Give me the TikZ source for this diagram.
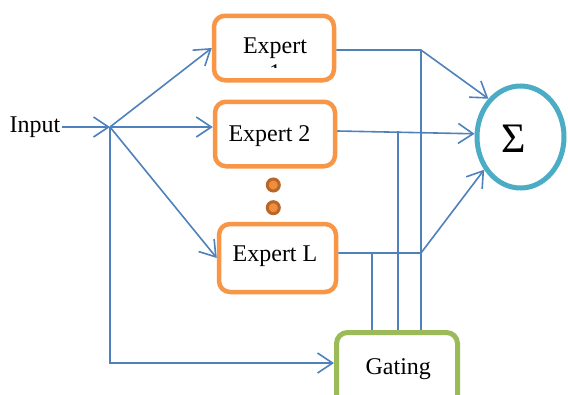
\documentclass[tikz,border=0pt]{standalone}
\usepackage{fontspec}
\setmainfont{Liberation Serif}
\usetikzlibrary{arrows.meta,shapes.geometric,calc}

\definecolor{expertorange}{RGB}{247,150,70}
\definecolor{gategreen}{RGB}{155,187,89}
\definecolor{sumcyan}{RGB}{75,172,198}
\definecolor{wireblue}{RGB}{79,129,189}
\definecolor{dotring}{RGB}{184,102,42}
\definecolor{dotfill}{RGB}{240,142,62}

\tikzset{
  expertbox/.style={draw=expertorange, line width=4.5pt, rounded corners=11pt,
    minimum width=120pt, minimum height=64.5pt, inner sep=0pt},
  gatebox/.style={draw=gategreen, line width=5pt, rounded corners=11pt,
    minimum width=121pt, minimum height=77pt, inner sep=0pt},
  sumnode/.style={draw=sumcyan, line width=5pt, ellipse,
    minimum width=87pt, minimum height=102pt, inner sep=0pt},
  lbl/.style={font=\fontsize{24}{27.5}\selectfont, inner sep=0pt, anchor=base},
  biglbl/.style={font=\fontsize{42}{46}\selectfont, inner sep=0pt, anchor=base},
  wire/.style={draw=wireblue, line width=1.6pt},
  feed/.style={wire, -{Straight Barb[length=15pt,width=20pt,line width=1.6pt]}},
  dotmark/.style={circle, draw=dotring, fill=dotfill, line width=3pt,
    minimum size=12pt, inner sep=0pt}
}

\begin{document}
\begin{tikzpicture}[x=1pt,y=-1pt]
  \clip (0,0) rectangle (568,394);
  \fill[white] (0,0) rectangle (568,394);

  % experts, summation and gating blocks
  \node[expertbox] (e1) at (274,48) {};
  \node[expertbox] (e2) at (275,134) {};
  \node[expertbox, minimum width=117pt, minimum height=68pt] (eL) at (277.5,258) {};
  \node[gatebox] (gate) at (397,371) {};
  \node[sumnode] (sig) at (520.5,137) {};

  % labels
  \node[lbl] (t1) at (275,53) {Expert};
  \begin{scope}
    \clip (214,56) rectangle (334,67);
    \node[lbl] (t1b) at (275,80) {1};
  \end{scope}
  \node[lbl] (t2) at (269.5,141.7) {Expert 2};
  \node[lbl] (tL) at (275,261.7) {Expert L};
  \node[lbl] (tg) at (398.3,374) {Gating};
  \node[lbl] (tin) at (35,132) {Input};
  \node[biglbl] (tsum) at (514,152) {Σ};

  % dots between expert 2 and expert L
  \node[dotmark] (d1) at (273.3,185) {};
  \node[dotmark] (d2) at (273.3,207.7) {};

  % input fan-out
  \coordinate (br) at (110,127);
  \coordinate (inl) at (62,127);
  \draw[feed] (inl) -- (br);
  \draw[feed] (br) -- (e1.west);
  \draw[feed] (br) -- (br -| e2.west);
  \draw[feed] (br) -- (eL.west);
  \coordinate (gin) at ($(gate.north west)+(0,33)$);
  \draw[feed] (br) -- (br |- gin) -- (gin);

  % expert outputs
  \coordinate (j1) at (421,50);
  \coordinate (j2) at (398,131);
  \coordinate (jL) at (421,253);
  \coordinate (kL) at (372,253);
  \draw[feed] (e1.east |- j1) -- (j1) -- (sig.130);
  \draw[feed] (e2.east |- j2) -- (sig.176);
  \draw[feed] (eL.east |- jL) -- (jL) -- (sig.222);

  % taps into the gating block
  \draw[wire] (j1) -- (j1 |- gate.north);
  \draw[wire] (j2) -- (j2 |- gate.north);
  \draw[wire] (kL) -- (kL |- gate.north);
\end{tikzpicture}
\end{document}
